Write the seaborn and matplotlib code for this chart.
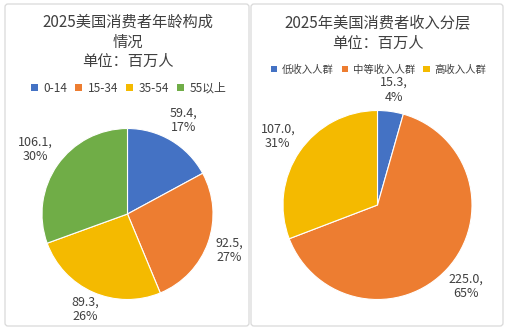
import matplotlib
matplotlib.use("Agg")
import matplotlib.pyplot as plt
import seaborn as sns
from matplotlib.patches import FancyBboxPatch
from matplotlib.transforms import IdentityTransform

# ---- data ----
age_groups = ["0-14", "15-34", "35-54", "55以上"]
age_values = [59.4, 92.5, 89.3, 106.1]
age_pct = ["17%", "27%", "26%", "30%"]

income_groups = ["低收入人群", "中等收入人群", "高收入人群"]
income_values = [15.3, 225.0, 107.0]
income_pct = ["4%", "65%", "31%"]

title_left = "2025美国消费者年龄构成\n情况\n单位：百万人"
title_right = "2025年美国消费者收入分层\n单位：百万人"

sns.set_theme(style="white")
plt.rcParams["font.family"] = ["Noto Sans CJK SC", "DejaVu Sans"]

palette = sns.color_palette(["#4472C4", "#ED7D31", "#F4BA00", "#70AD47"])
TEXT = "#404040"

W, H = 507, 331
fig = plt.figure(figsize=(W / 100, H / 100), dpi=100)
fig.patch.set_facecolor("white")

# panel borders (pixel coordinates)
for x0, x1 in [(5, 249), (251, 503)]:
    box = FancyBboxPatch((x0, 5), x1 - x0, 322,
                         boxstyle="round,pad=0,rounding_size=3",
                         transform=IdentityTransform(),
                         facecolor="white", edgecolor="#d9d9d9", lw=0.9,
                         zorder=-10)
    fig.add_artist(box)


def pie_axes(cx, cy, r):
    # cx, cy in pixel from top-left
    ax = fig.add_axes([(cx - r) / W, (H - cy - r) / H, 2 * r / W, 2 * r / H])
    ax.patch.set_visible(False)
    return ax


def draw_pie(ax, values, pct, colors, dists):
    labels = [f"{v:.1f},\n{p}" for v, p in zip(values, pct)]
    wedges, texts = ax.pie(values, colors=colors, startangle=90, counterclock=False,
                           labels=labels, labeldistance=1.0,
                           wedgeprops=dict(edgecolor="white", linewidth=0.8),
                           textprops=dict(fontsize=9, color=TEXT, linespacing=1.15))
    for t, d in zip(texts, dists):
        x, y = t.get_position()
        t.set_position((x * d, y * d))
        t.set_ha("center")
        t.set_va("center")
    ax.set_xlim(-1, 1)
    ax.set_ylim(-1, 1)
    ax.set_aspect("equal")
    ax.axis("off")
    return wedges


axL = pie_axes(127.5, 214, 85.5)
wL = draw_pie(axL, age_values, age_pct, palette[:4], [1.28, 1.26, 1.22, 1.32])
axR = pie_axes(377.5, 205, 94.5)
wR = draw_pie(axR, income_values, income_pct, palette[:3], [1.23, 1.27, 1.28])

# titles
fig.text(128 / W, 1 - 42 / H, title_left, ha="center", va="center",
         fontsize=11, color=TEXT, linespacing=1.2)
fig.text(378 / W, 1 - 34 / H, title_right, ha="center", va="center",
         fontsize=11, color=TEXT, linespacing=1.2)

leg_kw = dict(frameon=False, handlelength=0.6, handleheight=0.6,
              handletextpad=0.45, borderaxespad=0, borderpad=0,
              labelcolor=TEXT)
legL = fig.legend(wL, age_groups, loc="center", bbox_to_anchor=(128.5 / W, 1 - 88 / H),
                  ncol=4, columnspacing=0.7, fontsize=8.5, **leg_kw)
legR = fig.legend(wR, income_groups, loc="center", bbox_to_anchor=(378.5 / W, 1 - 69.5 / H),
                  ncol=3, columnspacing=0.8, fontsize=7.5, **leg_kw)
for leg in (legL, legR):
    for h in leg.legend_handles:
        h.set_edgecolor("none")

fig.savefig("out.png", dpi=100, facecolor="white")
